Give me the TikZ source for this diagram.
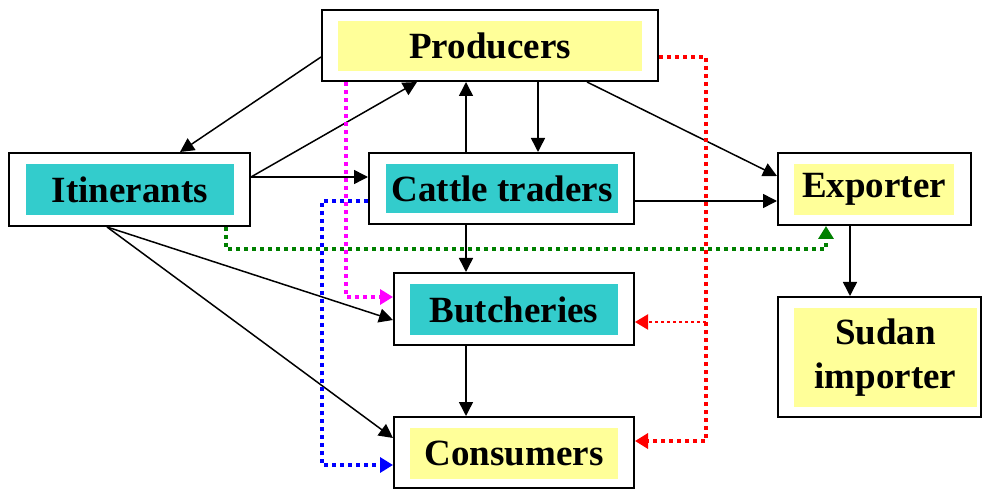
\documentclass[tikz,border=0pt]{standalone}
\usepackage{fontspec}
\setmainfont{Liberation Serif}
\usetikzlibrary{arrows.meta}
\definecolor{ylw}{HTML}{FFFF99}
\definecolor{cyn}{HTML}{33CCCC}
\definecolor{grn}{HTML}{008000}
\definecolor{mgt}{HTML}{FF00FF}
\definecolor{blu}{HTML}{0000FF}
\definecolor{rd}{HTML}{FF0000}
\begin{document}
\begin{tikzpicture}[x=1pt,y=-1pt,
  outerbox/.style={draw=black,line width=2pt,fill=white,inner sep=0pt},
  innerbox/.style={inner sep=0pt,align=center,font=\bfseries\fontsize{37}{44}\selectfont},
  conn/.style={line width=1.5pt,-{Triangle[length=14pt,width=14pt]}},
  dots/.style={line width=3.5pt,dash pattern=on 4pt off 4pt,-{Triangle[length=13pt,width=15pt]}},
  thindots/.style={line width=2.2pt,dash pattern=on 3pt off 3pt,-{Triangle[length=13pt,width=15pt]}}]
\useasboundingbox (0,0) rectangle (983,489);
% outer boxes
\node[outerbox,minimum width=336pt,minimum height=71pt] (prod) at (490,45.5) {};
\node[outerbox,minimum width=241pt,minimum height=73pt] (itin) at (129.5,189.5) {};
\node[outerbox,minimum width=265pt,minimum height=71pt] (cattle) at (501.5,188.5) {};
\node[outerbox,minimum width=240pt,minimum height=72pt] (butch) at (514,309) {};
\node[outerbox,minimum width=240pt,minimum height=71pt] (cons) at (514,452.5) {};
\node[outerbox,minimum width=193pt,minimum height=72pt] (exp) at (874.5,189) {};
\node[outerbox,minimum width=203pt,minimum height=120pt] (sudan) at (879.5,357) {};
% inner labels
\node[innerbox,fill=ylw,minimum width=304pt,minimum height=50pt] (prodt) at (490,46) {Producers};
\node[innerbox,fill=cyn,minimum width=208pt,minimum height=51pt] (itint) at (130,189.5) {Itinerants};
\node[innerbox,fill=cyn,minimum width=232pt,minimum height=49pt] (cattlet) at (502,188.5) {Cattle traders};
\node[innerbox,fill=cyn,minimum width=208pt,minimum height=51pt] (butcht) at (514,309.5) {Butcheries};
\node[innerbox,fill=ylw,minimum width=208pt,minimum height=51pt] (const) at (514,453.5) {Consumers};
\node[innerbox,fill=ylw,minimum width=160pt,minimum height=51pt] (expt) at (874,189.5) {Exporter};
\node[innerbox,fill=ylw,minimum width=183pt,minimum height=99pt] (sudant) at (885.5,357.5) {Sudan\\importer};
% solid connectors
\draw[conn] (prod.west |- 0,57) -- (itin.north -| 180,0);
\draw[conn] (itin.east |- 0,177) -- (prod.south -| 417,0);
\draw[conn] (itin.east |- 0,177) -- (cattle.west |- 0,177);
\draw[conn] (cattle.north -| 466,0) -- (prod.south -| 466,0);
\draw[conn] (prod.south -| 538,0) -- (cattle.north -| 538,0);
\draw[conn] (prod.south -| 587,0) -- (exp.west |- 0,176);
\draw[conn] (cattle.east |- 0,201) -- (exp.west |- 0,201);
\draw[conn] (cattle.south -| 466,0) -- (butch.north -| 466,0);
\draw[conn] (itin.south -| 107,0) -- (butch.west |- 0,320);
\draw[conn] (itin.south -| 107,0) -- (cons.west |- 0,438);
\draw[conn] (butch.south -| 466,0) -- (cons.north -| 466,0);
\draw[conn] (exp.south -| 850,0) -- (sudan.north -| 850,0);
% dotted connectors
\draw[dots,mgt] (prod.south -| 346,0) -- (346,297) -- (butch.west |- 0,297);
\draw[dots,blu] (cattle.west |- 0,201) -- (322,201) -- (322,465) -- (cons.west |- 0,465);
\draw[dots,grn] (itin.south -| 226,0) -- (226,249) -- (826,249) -- (exp.south -| 826,0);
\draw[dots,rd] (prod.east |- 0,57) -- (706,57) -- (706,441) -- (cons.east |- 0,441);
\draw[thindots,rd] (706,322) -- (butch.east |- 0,322);
\end{tikzpicture}
\end{document}
